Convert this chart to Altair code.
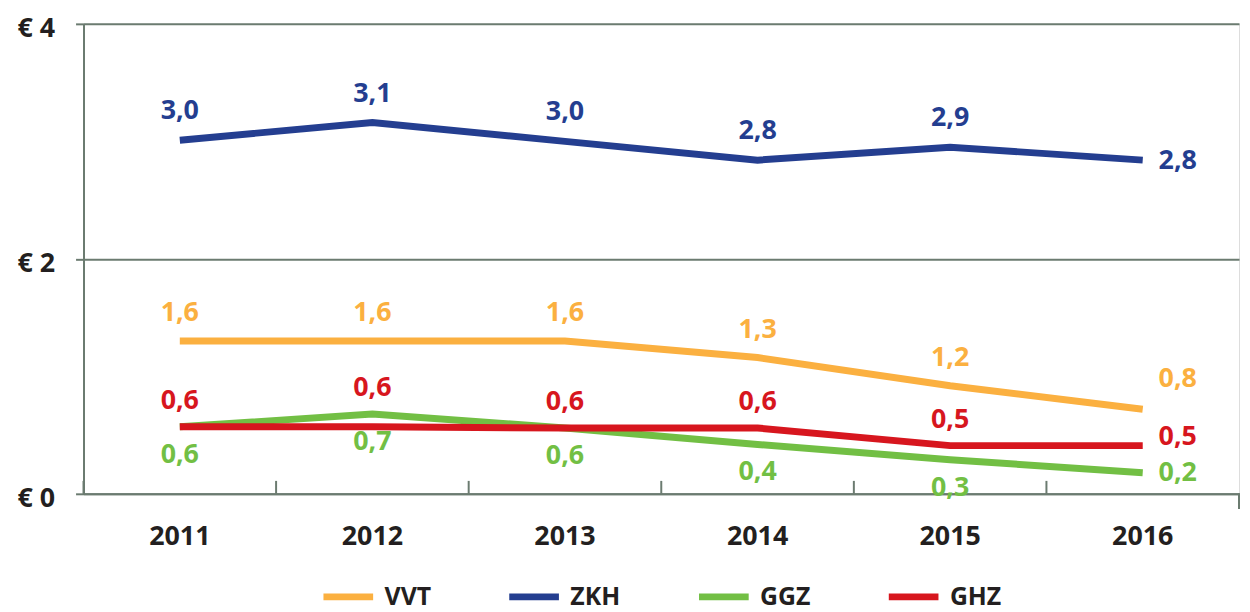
import altair as alt
import pandas as pd

years = ["2011", "2012", "2013", "2014", "2015", "2016"]
series = ["VVT", "ZKH", "GGZ", "GHZ"]
colors = ["#FBB040", "#243E90", "#72BF44", "#D7161E"]

vvt = [1.30, 1.30, 1.30, 1.16, 0.92, 0.72]
zkh = [3.01, 3.16, 3.00, 2.84, 2.95, 2.84]
ggz = [0.57, 0.68, 0.56, 0.42, 0.29, 0.18]
ghz = [0.57, 0.57, 0.56, 0.56, 0.41, 0.41]

vvt_lbl = ["1,6", "1,6", "1,6", "1,3", "1,2", "0,8"]
zkh_lbl = ["3,0", "3,1", "3,0", "2,8", "2,9", "2,8"]
ggz_lbl = ["0,6", "0,7", "0,6", "0,4", "0,3", "0,2"]
ghz_lbl = ["0,6", "0,6", "0,6", "0,6", "0,5", "0,5"]

rows = []
for s, vals, lbls in zip(series, [vvt, zkh, ggz, ghz], [vvt_lbl, zkh_lbl, ggz_lbl, ghz_lbl]):
    for i, (yr, v, l) in enumerate(zip(years, vals, lbls)):
        anchor = v
        if s == "GHZ":
            anchor = max(v, ggz[i])
        rows.append({"series": s, "year": yr, "value": v, "label": l, "anchor": anchor})
df = pd.DataFrame(rows)
ticks_df = pd.DataFrame({"year": years})

W, H = 1163, 473
GREY = "#6B7B70"
INK = "#231F20"
FONT = "Open Sans"

def xenc(band=0.5):
    return alt.X(
        "year:O",
        bandPosition=band,
        scale=alt.Scale(type="band", paddingInner=0, paddingOuter=0, domain=years),
        axis=alt.Axis(
            title=None, labelAngle=0, ticks=False, grid=False,
            domainColor=GREY, domainWidth=2,
            labelFont=FONT, labelFontSize=27, labelFontWeight="bold",
            labelColor=INK, labelPadding=43, labelBaseline="middle",
        ),
    )

def yenc(field):
    return alt.Y(
        f"{field}:Q",
        scale=alt.Scale(domain=[0, 4]),
        axis=alt.Axis(
            title=None, values=[0, 2, 4], grid=True, gridColor=GREY, gridWidth=2,
            domainColor=GREY, domainWidth=2, tickColor=GREY, tickWidth=2, tickSize=8,
            labelExpr="'€ ' + datum.value",
            labelFont=FONT, labelFontSize=27, labelFontWeight="bold",
            labelColor=INK, labelPadding=21, labelOffset=5,
        ),
    )

lines = alt.Chart(df).mark_line(strokeWidth=7, strokeCap="butt").encode(
    x=xenc(),
    y=yenc("value"),
    color=alt.Color(
        "series:N",
        sort=series,
        scale=alt.Scale(domain=series, range=colors),
        legend=alt.Legend(
            title=None, orient="none", legendX=238, legendY=548,
            direction="horizontal", symbolType="stroke", symbolSize=2500,
            symbolStrokeWidth=7, labelFont=FONT, labelFontSize=25,
            labelFontWeight="bold", labelColor=INK, columnPadding=64,
            labelOffset=8, padding=0,
        ),
    ),
)

inner_ticks = alt.Chart(ticks_df).mark_rule(color=GREY, strokeWidth=2).encode(
    x=xenc(0), y=alt.value(H - 13), y2=alt.value(H)
)
end_tick = alt.Chart(ticks_df).mark_rule(color=GREY, strokeWidth=2).encode(
    x=alt.value(W), y=alt.value(H), y2=alt.value(H + 15)
)

dy_main = {"VVT": -28, "ZKH": -29, "GGZ": 28, "GHZ": -26}
dy_last = {"VVT": -30, "ZKH": 1, "GGZ": 0, "GHZ": -9}

text_layers = []
for s, c in zip(series, colors):
    base = alt.Chart(df).transform_filter(alt.datum.series == s)
    text_layers.append(
        base.transform_filter(alt.datum.year != "2016").mark_text(
            font=FONT, fontSize=27, fontWeight="bold", align="center",
            baseline="middle", dy=dy_main[s], color=c,
        ).encode(x=xenc(), y=yenc("anchor"), text="label:N")
    )
    text_layers.append(
        base.transform_filter(alt.datum.year == "2016").mark_text(
            font=FONT, fontSize=27, fontWeight="bold", align="left",
            baseline="middle", dx=16, dy=dy_last[s], color=c,
        ).encode(x=xenc(), y=yenc("anchor"), text="label:N")
    )

chart = alt.layer(lines, inner_ticks, end_tick, *text_layers).properties(
    width=W, height=H,
    autosize="none",
    padding={"left": 76, "top": 14, "right": 3, "bottom": 117},
).configure_view(stroke=None).configure(font=FONT)

chart.save("out.html", embed_options={"renderer": "svg", "actions": False})
